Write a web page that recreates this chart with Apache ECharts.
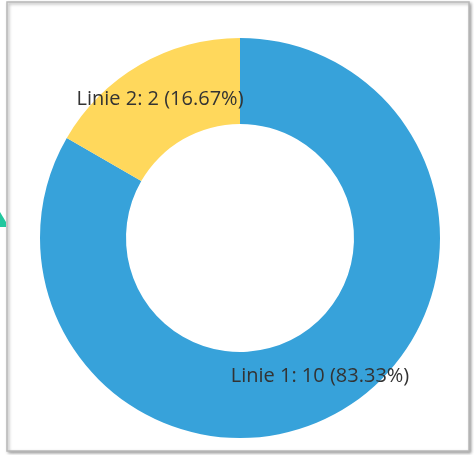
<!DOCTYPE html>
<html>
<head>
<meta charset="utf-8">
<script src="https://cdn.jsdelivr.net/npm/echarts@6/dist/echarts.min.js"></script>
<style>
html,body{margin:0;padding:0;background:#fff;}
#main{width:474px;height:455px;}
</style>
</head>
<body>
<div id="main"></div>
<script>
const categories = ['Linie 1', 'Linie 2'];
const values = [10, 2];
const colors = ['#37a2da', '#ffd85c'];

const chart = echarts.init(document.getElementById('main'), null, {renderer: 'canvas'});
chart.setOption({
  animation: false,
  backgroundColor: '#fff',
  color: colors,
  graphic: [
    {
      type: 'rect', z: -10, silent: true,
      shape: {x: 7, y: 2, width: 462, height: 449},
      style: {fill: '#fff', stroke: '#b8b8b8', lineWidth: 1.5,
              shadowBlur: 3, shadowOffsetX: 1.5, shadowOffsetY: 1.5, shadowColor: 'rgba(0,0,0,0.35)'}
    },
    {
      type: 'polygon', z: -5, silent: true,
      shape: {points: [[0, 212], [6, 222], [6, 227], [0, 227]]},
      style: {fill: '#21c79e'}
    }
  ],
  series: [{
    type: 'pie',
    center: [240, 238],
    radius: [114, 200],
    startAngle: 90,
    clockwise: true,
    avoidLabelOverlap: false,
    label: {
      show: true,
      position: 'inside',
      formatter: '{b}: {c} ({d}%)',
      color: '#333',
      fontSize: 20,
      fontFamily: '"Open Sans", sans-serif',
      textBorderWidth: 0
    },
    labelLine: {show: false},
    emphasis: {scale: false},
    data: categories.map((c, i) => ({name: c, value: values[i]}))
  }]
});
</script>
</body>
</html>
